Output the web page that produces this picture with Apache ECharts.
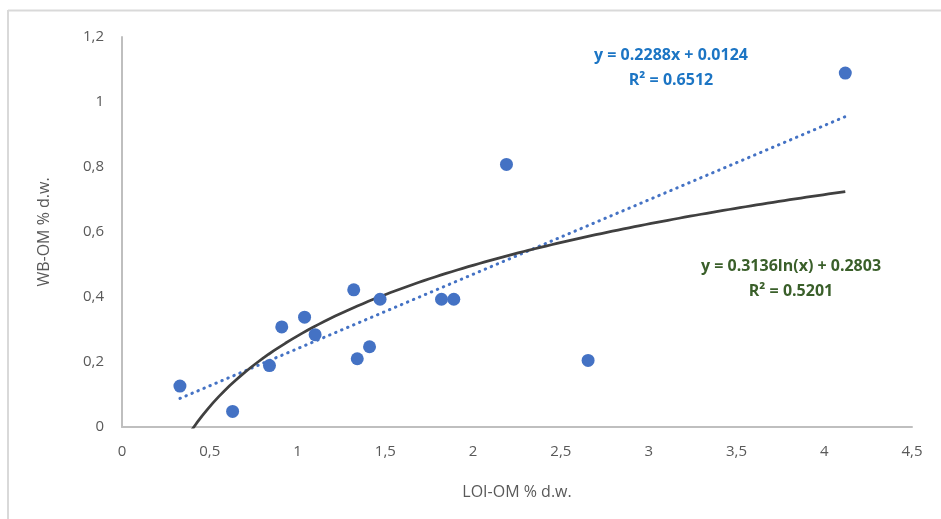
<!DOCTYPE html>
<html><head><meta charset="utf-8">
<script src="https://cdn.jsdelivr.net/npm/echarts@6/dist/echarts.min.js"></script>
<style>html,body{margin:0;padding:0;background:#fff}#c{width:941px;height:519px}</style>
</head><body><div id="c"></div>
<script>
// Data
const loiOM = [0.33, 0.63, 0.84, 0.91, 1.04, 1.10, 1.32, 1.34, 1.41, 1.47, 1.82, 1.89, 2.19, 2.655, 4.12];
const wbOM  = [0.126, 0.048, 0.189, 0.308, 0.338, 0.284, 0.422, 0.210, 0.247, 0.393, 0.393, 0.393, 0.808, 0.205, 1.089];
// Trendline coefficients as displayed on the chart
const linCoef = [0.2288, 0.0124];   // y = a x + b
const logCoef = [0.3136, 0.2803];   // y = a ln(x) + b
const linLabel = ['y = 0.2288x + 0.0124', 'R² = 0.6512'];
const logLabel = ['y = 0.3136ln(x) + 0.2803', 'R² = 0.5201'];
const xTicks = [0, 0.5, 1, 1.5, 2, 2.5, 3, 3.5, 4, 4.5];
const yTicks = [0, 0.2, 0.4, 0.6, 0.8, 1, 1.2];

const xMin = Math.min(...loiOM), xMax = Math.max(...loiOM);
const linLine = [[xMin, linCoef[0]*xMin + linCoef[1]], [xMax, linCoef[0]*xMax + linCoef[1]]];
const logLine = [];
const N = 120;
for (let i = 0; i <= N; i++) {
  const x = xMin + (xMax - xMin) * i / N;
  logLine.push([x, logCoef[0]*Math.log(x) + logCoef[1]]);
}
const fmt = v => String(v).replace('.', ',');
const font = '"Open Sans", "Liberation Sans", sans-serif';
const chart = echarts.init(document.getElementById('c'), null, {renderer: 'canvas'});
chart.setOption({
  animation: false,
  backgroundColor: '#fff',
  grid: {left: 122, right: 29, top: 37, bottom: 92, containLabel: false},
  xAxis: {
    type: 'value', min: 0, max: 4.5, interval: 0.5,
    name: 'LOI-OM % d.w.', nameLocation: 'middle', nameGap: 57,
    nameTextStyle: {color: '#595959', fontSize: 16, fontFamily: font},
    axisLine: {show: true, lineStyle: {color: '#bfbfbf', width: 2}},
    axisTick: {show: false},
    splitLine: {show: false},
    axisLabel: {color: '#595959', fontSize: 15, fontFamily: font, margin: 17,
      formatter: v => fmt(v)}
  },
  yAxis: {
    type: 'value', min: 0, max: 1.2, interval: 0.2,
    name: 'WB-OM % d.w.', nameLocation: 'middle', nameGap: 70, nameRotate: 90,
    nameTextStyle: {color: '#595959', fontSize: 16, fontFamily: font},
    axisLine: {show: true, lineStyle: {color: '#bfbfbf', width: 2}},
    axisTick: {show: false},
    splitLine: {show: false},
    axisLabel: {color: '#595959', fontSize: 15, fontFamily: font, margin: 18,
      formatter: v => fmt(Math.round(v*10)/10)}
  },
  series: [
    {type: 'line', data: linLine, showSymbol: false, symbol: 'none', z: 2,
     lineStyle: {color: '#4472C4', width: 3, type: [0.5, 6], cap: 'round'}},
    {type: 'line', data: logLine, showSymbol: false, symbol: 'none', z: 2, clip: true,
     lineStyle: {color: '#404040', width: 2.75}},
    {type: 'scatter', data: loiOM.map((x, i) => [x, wbOM[i]]), symbolSize: 13, z: 3,
     itemStyle: {color: '#4472C4', opacity: 1}}
  ],
  graphic: [
    {type: 'line', shape: {x1: 8, y1: 10.5, x2: 941, y2: 10.5}, style: {stroke: '#d9d9d9', lineWidth: 2}},
    {type: 'line', shape: {x1: 8, y1: 10, x2: 8, y2: 519}, style: {stroke: '#d9d9d9', lineWidth: 2}},
    {type: 'text', x: 671, y: 55, style: {text: linLabel[0], fill: '#1C75C4', font: 'bold 16px ' + font, textAlign: 'center', textVerticalAlign: 'middle'}},
    {type: 'text', x: 671, y: 80, style: {text: linLabel[1], fill: '#1C75C4', font: 'bold 16px ' + font, textAlign: 'center', textVerticalAlign: 'middle'}},
    {type: 'text', x: 791, y: 266, style: {text: logLabel[0], fill: '#3A5F2A', font: 'bold 16px ' + font, textAlign: 'center', textVerticalAlign: 'middle'}},
    {type: 'text', x: 791, y: 291, style: {text: logLabel[1], fill: '#3A5F2A', font: 'bold 16px ' + font, textAlign: 'center', textVerticalAlign: 'middle'}}
  ]
});
</script></body></html>
